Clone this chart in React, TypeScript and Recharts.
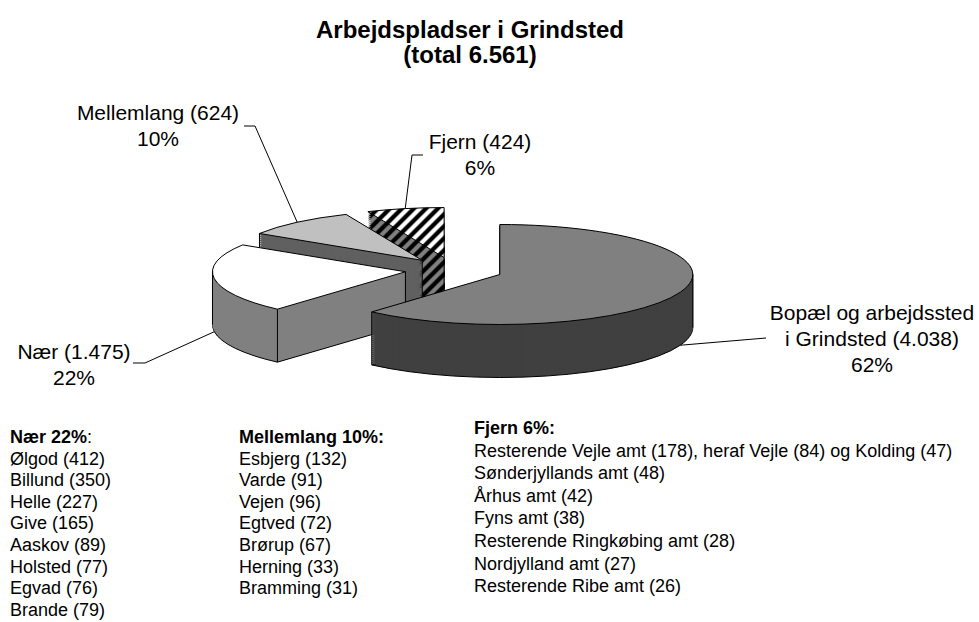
import { PieChart, Pie, Cell } from 'recharts'

// pie slices, clockwise from 12 o'clock
const categories = ['Bopæl og arbejdssted\ni Grindsted', 'Nær', 'Mellemlang', 'Fjern']
const jobs = [4038, 1475, 624, 424]
const percents = [62, 22, 10, 6]

// break-down lists under the chart
const naerTowns = ['Ølgod', 'Billund', 'Helle', 'Give', 'Aaskov', 'Holsted', 'Egvad', 'Brande']
const naerJobs = [412, 350, 227, 165, 89, 77, 76, 79]
const mellemTowns = ['Esbjerg', 'Varde', 'Vejen', 'Egtved', 'Brørup', 'Herning', 'Bramming']
const mellemJobs = [132, 91, 96, 72, 67, 33, 31]
const fjernAreas = ['Resterende Vejle amt', 'Sønderjyllands amt', 'Århus amt', 'Fyns amt', 'Resterende Ringkøbing amt', 'Nordjylland amt', 'Resterende Ribe amt']
const fjernJobs = [178, 48, 42, 38, 28, 27, 26]
const fjernNotes = [', heraf Vejle (84) og Kolding (47)', '', '', '', '', '', '']

const topFill = ['#808080', '#ffffff', '#c0c0c0', 'url(#hatchTop)']
const wallFill = ['#404040', '#808080', '#606060', 'url(#hatchWall)']

const FONT = '"Liberation Sans", Arial, sans-serif'
const W = 979
const H = 622
const R = 193 // radius
const K = 50 / 193 // vertical squash of the tilted pie
const CXP = 454 // pie centre on page
const CYP = 270
const CY_U = 400 // unsquashed centre y inside the squashed pie layers
const SHIFT = CYP - K * CY_U
const EXPLODE = 49
const DEPTH = 53
const STEP = 2
const HATCH = 12

const fmt = (n: number) => String(n).replace(/\B(?=(\d{3})+(?!\d))/g, '.')

const total = jobs.reduce((a, b) => a + b, 0)
const pieData = categories.map((c, i) => ({ name: c, value: jobs[i] }))

// slice boundaries in degrees, clockwise from 12 o'clock
const bounds: number[] = [0]
jobs.forEach((v) => bounds.push(bounds[bounds.length - 1] + (v / total) * 360))
const rad = (a: number) => (a * Math.PI) / 180

// exploded centre of each slice (page coords) and leader end point
const geo = jobs.map((_, i) => {
  const mid = rad((bounds[i] + bounds[i + 1]) / 2)
  const sx = Math.sin(mid)
  const sy = -Math.cos(mid)
  const cx = CXP + EXPLODE * sx
  const cyU = CY_U + EXPLODE * sy
  const ay = CYP + K * EXPLODE * sy
  const front = sy > 0
  return { cx, cyU, ay, rimX: cx + R * sx, rimY: ay + K * R * sy + (front ? DEPTH : 0) }
})

const rimPt = (i: number, a: number) => [geo[i].cx + R * Math.sin(rad(a)), geo[i].ay - K * R * Math.cos(rad(a))]
// y of slice i's radial edge (at angle a) above page x
const edgeY = (i: number, a: number, x: number) => {
  const [rx, ry] = rimPt(i, a)
  const t = (x - geo[i].cx) / (rx - geo[i].cx)
  return geo[i].ay + t * (ry - geo[i].ay)
}

// vertical edges of the 3D slices: [slice, angle or null for apex, occluding slice, occluding edge angle]
const edges: [number, number | null, number | null, number][] = [
  [0, bounds[1], null, 0],
  [0, 90, null, 0],
  [1, bounds[1], null, 0],
  [1, 270, null, 0],
  [1, null, 0, bounds[1]],
  [2, bounds[2], 1, bounds[2]],
  [2, null, 0, bounds[1]],
  [3, null, 0, bounds[1]],
]

const edgeLines = edges.map(([i, a, occ, oa]) => {
  const [x, y] = a === null ? [geo[i].cx, geo[i].ay] : rimPt(i, a)
  let y2 = y + DEPTH
  if (occ !== null) y2 = Math.min(y2, edgeY(occ, oa, x))
  return { x, y1: y, y2 }
})

// label boxes (centre x, first baseline, leader start / elbow)
const labelPos = [
  { x: 872, y: 320, from: [766, 338], elbow: null as number[] | null },
  { x: 74, y: 359, from: [133, 363], elbow: [145, 363] },
  { x: 158, y: 120, from: [244, 126], elbow: [255, 126] },
  { x: 480, y: 149, from: [423, 155], elbow: [412, 155] },
]

const labelLines = categories.map((c, i) => {
  const parts = c.split('\n')
  parts[parts.length - 1] += ` (${fmt(jobs[i])})`
  return [...parts, `${percents[i]}%`]
})

function slicePie(i: number, d: number, fill: string, stroke: string) {
  const g = geo[i]
  return (
    <Pie
      key={`p${i}-${d}`}
      data={pieData}
      dataKey="value"
      cx={g.cx}
      cy={g.cyU + d / K}
      outerRadius={R}
      startAngle={90}
      endAngle={-270}
      legendType="none"
      isAnimationActive={false}
    >
      {pieData.map((_, j) => (
        <Cell key={j} fill={j === i ? fill : 'none'} stroke={j === i ? stroke : 'none'} strokeWidth={1} />
      ))}
    </Pie>
  )
}

function sliceLayers(i: number) {
  const out = []
  for (let d = DEPTH; d > 0; d -= STEP) {
    const st = d === DEPTH ? '#000' : i === 3 ? 'none' : wallFill[i]
    out.push(slicePie(i, d, wallFill[i], st))
  }
  out.push(slicePie(i, 0, topFill[i], '#000'))
  return out
}

function ListBlock({ x, y, step, head, rows, boldColon }: { x: number; y: number; step: number; head: string; rows: string[]; boldColon: boolean }) {
  return (
    <text x={x} y={y} fontSize={18} fontFamily={FONT} fill="#000">
      <tspan x={x} y={y} fontWeight="bold">{head}</tspan>
      <tspan fontWeight={boldColon ? 'bold' : 'normal'}>:</tspan>
      {rows.map((r, i) => (
        <tspan key={i} x={x} y={y + step * (i + 1)}>{r}</tspan>
      ))}
    </text>
  )
}

function Hatch({ id, bg }: { id: string; bg: string }) {
  const h = HATCH
  return (
    <pattern id={id} patternUnits="userSpaceOnUse" width={h} height={h} patternTransform={`scale(1 ${1 / K})`}>
      <rect width={h} height={h} fill={bg} />
      <path d={`M-2,2 L2,-2 M0,${h} L${h},0 M${h - 2},${h + 2} L${h + 2},${h - 2}`} stroke="#000" strokeWidth={4.3} />
    </pattern>
  )
}

// squash each pie layer into the tilted ellipse
const css = `
g.recharts-pie { transform: translate(0px, ${SHIFT}px) scale(1, ${K}); transform-origin: 0 0; transform-box: view-box; }
g.recharts-pie path { vector-effect: non-scaling-stroke; }
`

export default function App() {
  return (
    <div style={{ position: 'absolute', left: 0, top: 0, width: W, height: H, background: '#fff' }}>
      <style>{css}</style>
      <PieChart width={W} height={H} margin={{ top: 0, right: 0, bottom: 0, left: 0 }}>
        <defs>
          <Hatch id="hatchTop" bg="#ffffff" />
          <Hatch id="hatchWall" bg="#808080" />
        </defs>
        {[3, 2, 1, 0].map((i) => sliceLayers(i))}
      </PieChart>
      <svg width={W} height={H} style={{ position: 'absolute', left: 0, top: 0, pointerEvents: 'none' }}>
        {edgeLines.map((e, i) => (
          <line key={i} x1={e.x} x2={e.x} y1={e.y1} y2={e.y2} stroke="#000" strokeWidth={1} />
        ))}
        <text x={470} y={38} textAnchor="middle" fontSize={24} fontWeight="bold" fontFamily={FONT}>
          Arbejdspladser i Grindsted
        </text>
        <text x={470} y={63} textAnchor="middle" fontSize={24} fontWeight="bold" fontFamily={FONT}>
          (total {fmt(total)})
        </text>
        {labelPos.map((p, i) => {
          const pts = [p.from, ...(p.elbow ? [p.elbow] : []), [geo[i].rimX, geo[i].rimY]]
          return (
            <g key={i}>
              <polyline points={pts.map((q) => q.join(',')).join(' ')} fill="none" stroke="#000" strokeWidth={1} />
              <text textAnchor="middle" fontSize={21} fontFamily={FONT}>
                {labelLines[i].map((l, k) => (
                  <tspan key={k} x={p.x} y={p.y + 26 * k}>{l}</tspan>
                ))}
              </text>
            </g>
          )
        })}
        <ListBlock x={10} y={443} step={21.6} head={`${categories[1]} ${percents[1]}%`} boldColon={false} rows={naerTowns.map((t, i) => `${t} (${naerJobs[i]})`)} />
        <ListBlock x={239} y={443} step={21.6} head={`${categories[2]} ${percents[2]}%`} boldColon rows={mellemTowns.map((t, i) => `${t} (${mellemJobs[i]})`)} />
        <ListBlock x={474} y={434} step={22.6} head={`${categories[3]} ${percents[3]}%`} boldColon rows={fjernAreas.map((t, i) => `${t} (${fjernJobs[i]})${fjernNotes[i]}`)} />
      </svg>
    </div>
  )
}
